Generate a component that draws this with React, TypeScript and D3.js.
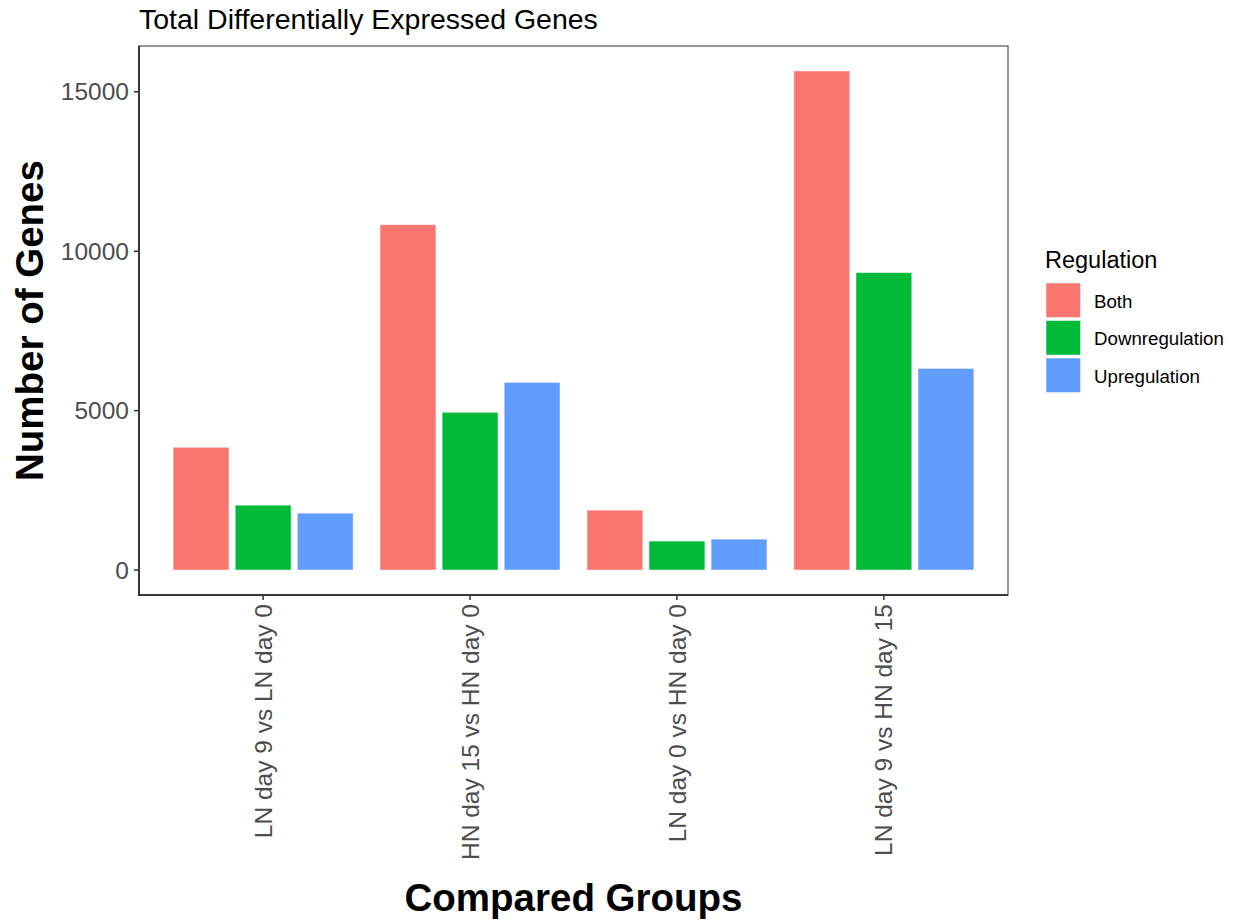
import React from "react";
import * as d3 from "d3";

const categories = [
  "LN day 9 vs LN day 0",
  "HN day 15 vs HN day 0",
  "LN day 0 vs HN day 0",
  "LN day 9 vs HN day 15",
];
const seriesNames = ["Both", "Downregulation", "Upregulation"];
const bothValues = [3851, 10833, 1879, 15654];
const downValues = [2035, 4947, 908, 9330];
const upValues = [1785, 5886, 970, 6324];
const yTicks = [0, 5000, 10000, 15000];
const seriesColors = ["#F8766D", "#00BA38", "#619CFF"];

const W = 1234;
const H = 920;
const FONT = "'Liberation Sans', Arial, sans-serif";

export default function App() {
  const left = 139;
  const right = 1008;
  const top = 46;
  const bottom = 595;

  const values = [bothValues, downValues, upValues];
  const maxV = d3.max(values.flat()) as number;
  const pad = maxV * 0.05;

  const x = d3
    .scaleBand<string>()
    .domain(categories)
    .range([left, right])
    .paddingInner(0.1)
    .paddingOuter(0.15);
  const xInner = d3
    .scaleBand<string>()
    .domain(seriesNames)
    .range([0, x.bandwidth()])
    .paddingInner(0.1)
    .paddingOuter(0.05);
  const y = d3.scaleLinear().domain([-pad, maxV + pad]).range([bottom, top]);

  const tickColor = "#4D4D4D";

  return (
    <svg width={W} height={H} style={{ display: "block", position: "absolute", left: 0, top: 0 }} fontFamily={FONT}>
      <rect x={0} y={0} width={W} height={H} fill="white" />
      <text x={left} y={29} fontSize={28.5} fill="#000">
        Total Differentially Expressed Genes
      </text>

      {/* bars */}
      {categories.map((c, i) => (
        <g key={c} transform={`translate(${x(c)},0)`}>
          {seriesNames.map((s, j) => {
            const v = values[j][i];
            return (
              <rect
                key={s}
                x={xInner(s)}
                y={y(v)}
                width={xInner.bandwidth()}
                height={y(0) - y(v)}
                fill={seriesColors[j]}
                stroke="white"
                strokeOpacity={0.5}
                strokeWidth={1}
              />
            );
          })}
        </g>
      ))}

      {/* panel border */}
      <rect x={left} y={top} width={right - left} height={bottom - top} fill="none" stroke="#737373" strokeWidth={1.5} />
      <line x1={left} x2={left} y1={top} y2={bottom + 0.75} stroke="#1a1a1a" strokeWidth={1.5} />
      <line x1={left - 0.75} x2={right} y1={bottom} y2={bottom} stroke="#1a1a1a" strokeWidth={1.5} />

      {/* y axis */}
      {yTicks.map((t) => (
        <g key={t}>
          <line x1={left - 5} x2={left} y1={y(t)} y2={y(t)} stroke="#333" strokeWidth={1.5} />
          <text x={left - 10} y={y(t)} dy="0.35em" textAnchor="end" fontSize={24.5} fill={tickColor}>
            {t}
          </text>
        </g>
      ))}

      {/* x axis */}
      {categories.map((c) => {
        const cx = (x(c) as number) + x.bandwidth() / 2;
        return (
          <g key={c}>
            <line x1={cx} x2={cx} y1={bottom} y2={bottom + 5} stroke="#333" strokeWidth={1.5} />
            <text
              transform={`translate(${cx},${bottom + 9}) rotate(-90)`}
              dy="0.35em"
              textAnchor="end"
              fontSize={24.5}
              fill={tickColor}
            >
              {c}
            </text>
          </g>
        );
      })}

      <text x={(left + right) / 2} y={911} textAnchor="middle" fontSize={38.5} fontWeight="bold" fill="#000">
        Compared Groups
      </text>
      <text
        transform={`translate(30,${(top + bottom) / 2}) rotate(-90)`}
        dy="0.35em"
        textAnchor="middle"
        fontSize={38.5}
        fontWeight="bold"
        fill="#000"
      >
        Number of Genes
      </text>

      {/* legend */}
      <text x={1045} y={268} fontSize={23.5} fill="#000">
        Regulation
      </text>
      {seriesNames.map((s, j) => (
        <g key={s}>
          <rect x={1045} y={282 + j * 37.5} width={36} height={36} fill="white" />
          <rect x={1046} y={283 + j * 37.5} width={34.5} height={34.5} fill={seriesColors[j]} stroke="white" strokeOpacity={0.5} />
          <text x={1094} y={301 + j * 37.5} dy="0.35em" fontSize={18.7} fill="#000">
            {s}
          </text>
        </g>
      ))}
    </svg>
  );
}
